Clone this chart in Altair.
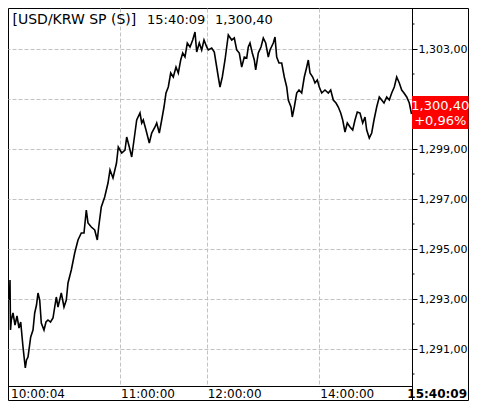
import altair as alt
import pandas as pd

# ---- data (sample number along the session, price) ----
tick_no = [
    1.5, 2, 2.5, 3.3, 5, 7, 9, 11, 12.7, 15,
    17.3, 18.5, 20, 22.7, 25, 26.7, 28.5, 30, 31.7, 33.3,
    36, 38, 40, 42.5, 45, 48.3, 50, 53.3, 56, 58.3,
    60, 63.3, 66.7, 70, 73.3, 76, 78.3, 80, 83.3, 86.7,
    89.3, 90.7, 93.3, 96.7, 100, 102, 105, 108.5, 110.3, 113.7,
    117, 118.7, 121.3, 123.7, 126, 128.7, 132, 133.7, 135.3, 138,
    141.3, 143.7, 147, 148.7, 151.3, 153.7, 156, 158, 160.3, 162.7,
    165.3, 168, 170.3, 172.7, 174.7, 177, 179.3, 182, 184.7, 187,
    188.7, 191.3, 193.7, 196, 198.7, 200.3, 203.7, 206.3, 208.7, 210.3,
    212, 214.3, 217, 218.7, 220.3, 223.7, 226.3, 228.7, 231.3, 233.7,
    236.3, 238.7, 240.3, 242, 244.3, 246.3, 247.7, 250.3, 253, 255.3,
    257.7, 260.3, 262, 265.3, 267, 268.7, 271, 273.7, 276.3, 278.7,
    280.3, 283, 284.3, 286.3, 288.7, 291, 293.7, 296.3, 298.5, 300.3,
    302, 304.7, 307, 309.3, 311.3, 313.7, 317, 320.3, 322.7, 325.3,
    328, 330.3, 332.7, 334.7, 337, 339.3, 342, 344.7, 347, 349.3,
    352, 354.7, 357, 358.7, 361.3, 363.7, 366, 368.7, 371.3, 373.7,
    376, 378.7, 381.3, 383.7, 386.3, 388.7, 391.3, 393.7, 396, 398.7,
    401.3, 403.5,
]
price = [
    1292.96, 1293.76, 1291.76, 1292.16, 1292.44, 1291.96, 1292.32, 1291.84, 1292.08, 1291.08,
    1290.24, 1290.56, 1290.68, 1291.48, 1291.76, 1292.44, 1292.76, 1293.24, 1292.96, 1292.04,
    1291.76, 1292.08, 1292.16, 1292.08, 1292.24, 1293.08, 1292.68, 1293.24, 1292.68, 1292.96,
    1293.64, 1294.16, 1294.84, 1295.36, 1295.64, 1295.64, 1296.56, 1296.04, 1295.88, 1295.76,
    1295.36, 1295.88, 1296.68, 1297.08, 1297.64, 1298.16, 1297.84, 1298.44, 1299.08, 1298.84,
    1298.96, 1299.48, 1299.08, 1298.68, 1299.36, 1300.16, 1300.44, 1300.04, 1300.16, 1299.76,
    1299.24, 1299.64, 1299.88, 1300.04, 1299.64, 1300.16, 1300.68, 1301.24, 1301.48, 1302.04,
    1301.88, 1302.28, 1302.04, 1302.56, 1302.84, 1302.68, 1303.24, 1303.08, 1303.36, 1303.68,
    1302.88, 1303.24, 1302.96, 1303.36, 1303.08, 1302.96, 1303.04, 1302.88, 1302.28, 1301.88,
    1301.48, 1301.88, 1302.56, 1303.08, 1303.56, 1303.36, 1303.44, 1302.96, 1302.84, 1302.28,
    1302.68, 1302.64, 1303.08, 1303.24, 1302.84, 1302.56, 1302.16, 1302.84, 1303.08, 1303.44,
    1303.24, 1302.68, 1302.96, 1303.24, 1303.48, 1302.68, 1302.44, 1302.44, 1301.88, 1301.48,
    1300.96, 1300.68, 1300.28, 1300.68, 1301.24, 1301.36, 1301.24, 1301.88, 1302.24, 1302.56,
    1302.04, 1301.88, 1301.64, 1301.76, 1301.48, 1301.24, 1301.36, 1301.24, 1301.36, 1300.96,
    1300.84, 1300.68, 1300.44, 1300.16, 1299.68, 1300.04, 1299.88, 1299.76, 1300.16, 1300.48,
    1300.44, 1300.04, 1300.28, 1299.76, 1299.44, 1299.64, 1300.16, 1300.68, 1301.08, 1300.96,
    1300.84, 1301.08, 1300.96, 1301.24, 1301.48, 1301.88, 1301.64, 1301.36, 1301.24, 1301.08,
    1300.84, 1300.40,
]
assert len(tick_no) == len(price)

major_levels = [1291, 1293, 1295, 1297, 1299, 1301, 1303]
minor_levels = [1290, 1292, 1294, 1296, 1298, 1300, 1302, 1304]
time_ticks = [0, 112, 198.7, 311.3]
time_labels = ["10:00:04", "11:00:00", "12:00:00", "14:00:00"]
last_time = "15:40:09"
symbol = "[USD/KRW SP (S)]"
last_price_label = "1,300,40"
change_label = "+0,96%"

FONT = "DejaVu Sans"
W, H = 404, 378
RIGHT = 58          # room for the price box on the right
GRID = "#c2c2c2"

xscale = alt.Scale(domain=[0, 404], nice=False, zero=False)
yscale = alt.Scale(domain=[1289.52, 1304.64], nice=False, zero=False)

xax = alt.Axis(values=time_ticks[1:], labels=False, ticks=False, domain=False,
               title=None, grid=True, gridColor=GRID, gridDash=[4, 2], gridWidth=1)
# the 1,301 label sits under the red last-price box, so it is left blank
yax = alt.Axis(orient="right", values=major_levels, title=None, grid=True,
               gridColor=GRID, gridDash=[4, 2], gridWidth=1,
               domain=True, domainColor="black", tickColor="black", tickSize=5,
               labelPadding=1, labelFont=FONT, labelFontSize=11, labelColor="black",
               labelAlign="left", labelBaseline="middle", labelOverlap=False,
               labelFlush=False, labelBound=False,
               labelExpr="datum.value == 1301 ? '' : replace(format(datum.value, ',.2f'), '.', ',')")

X = alt.X("t:Q", scale=xscale, axis=xax)
Y = alt.Y("p:Q", scale=yscale, axis=yax)

df = pd.DataFrame({"t": tick_no, "p": price})
line = alt.Chart(df).mark_line(color="black", strokeWidth=1.6,
                               strokeJoin="miter").encode(x=X, y=Y)

minor = alt.Chart(pd.DataFrame({"p": minor_levels})).mark_rule(
    color="black", strokeWidth=1).encode(y=Y, x=alt.value(404), x2=alt.value(406.5))

LAB_Y = 386
xl = pd.DataFrame({"t": time_ticks, "lab": time_labels})
xlab_first = alt.Chart(xl.iloc[:1]).mark_text(
    align="left", baseline="middle", font=FONT, fontSize=12, dx=3, color="black"
).encode(x=X, y=alt.value(LAB_Y), text="lab:N")
xlab_rest = alt.Chart(xl.iloc[1:]).mark_text(
    align="left", baseline="middle", font=FONT, fontSize=12, dx=1, color="black"
).encode(x=X, y=alt.value(LAB_Y), text="lab:N")

one = pd.DataFrame({"sym": [symbol], "tm": [last_time], "lp": [last_price_label],
                    "ch": [change_label]})


def txt(field, x, y, **kw):
    opts = dict(font=FONT, fontSize=13, color="black", baseline="middle", align="left")
    opts.update(kw)
    return alt.Chart(one).mark_text(**opts).encode(
        x=alt.value(x), y=alt.value(y), text=f"{field}:N")


title_sym = txt("sym", 4.5, 12, fontSize=14)
title_tm = txt("tm", 139, 12)
title_lp = txt("lp", 207, 12)


def rule(x, y, x2=None, y2=None, color="black", w=1):
    enc = dict(x=alt.value(x), y=alt.value(y))
    if x2 is not None:
        enc["x2"] = alt.value(x2)
    if y2 is not None:
        enc["y2"] = alt.value(y2)
    return alt.Chart(one).mark_rule(color=color, strokeWidth=w).encode(**enc)


def box(x, x2, y, y2, color):
    return alt.Chart(one).mark_rect(color=color).encode(
        x=alt.value(x), x2=alt.value(x2), y=alt.value(y), y2=alt.value(y2))


BOT = 392.5
RX = W + RIGHT - 1.5      # right frame line
cover_r = box(RX, W + RIGHT + 2, -1, 394, "white")
frame = [
    rule(404, 0.5, x2=RX),
    rule(RX, 0.5, y2=BOT),
    rule(0.5, BOT, x2=RX),
    rule(0.5, 378, y2=BOT),
    rule(404.5, 378, y2=BOT),
]

red = box(404, RX, 88, 121, "#ff0000")
red_lp = txt("lp", (404 + RX) / 2, 97.5, color="white", align="center")
red_ch = txt("ch", (404 + RX) / 2, 112.5, color="white", align="center")
last_tm = txt("tm", RX - 1.5, LAB_Y, align="right", fontWeight="bold", fontSize=12)

chart = alt.layer(
    line, minor, xlab_first, xlab_rest, title_sym, title_tm, title_lp,
    cover_r, *frame, red, red_lp, red_ch, last_tm,
).properties(
    width=W, height=H,
    padding={"left": 0, "top": 0, "right": RIGHT, "bottom": 15},
    autosize=alt.AutoSizeParams(type="none"),
    background="white",
).configure_view(stroke="black", strokeWidth=1, fill="white")

chart.save("out.html", embed_options={"renderer": "svg", "actions": False})
